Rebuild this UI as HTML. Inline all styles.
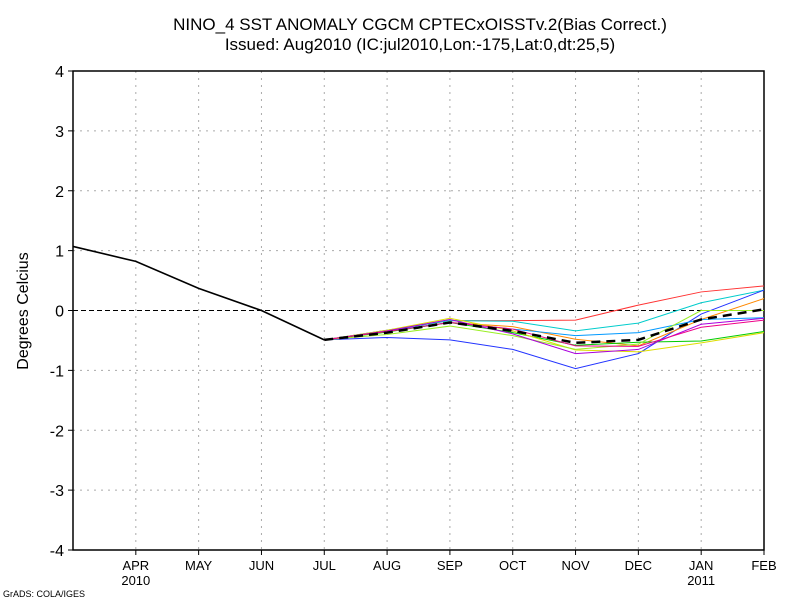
<!DOCTYPE html>
<html><head><meta charset="utf-8"><style>
body{margin:0;background:#fff}
svg text{font-family:"Liberation Sans",sans-serif}
</style></head><body>
<svg id="chart" width="800" height="600" xmlns="http://www.w3.org/2000/svg">
<rect width="800" height="600" fill="#fff"/>
<text x="420" y="30" font-size="17" text-anchor="middle">NINO_4 SST ANOMALY CGCM CPTECxOISSTv.2(Bias Correct.)</text>
<text x="420" y="50" font-size="17" text-anchor="middle">Issued:   Aug2010 (IC:jul2010,Lon:-175,Lat:0,dt:25,5)</text>
<text transform="translate(28,311) rotate(-90)" font-size="16" text-anchor="middle">Degrees Celcius</text>
<text x="3" y="597" font-size="9">GrADS: COLA/IGES</text>
<g id="grid"></g><g id="axes"></g><g id="series"></g>
</svg>
<script>
const months=["MAR","APR","MAY","JUN","JUL","AUG","SEP","OCT","NOV","DEC","JAN","FEB"];
const yTicks=[-4,-3,-2,-1,0,1,2,3,4];
const observed=[1.07,0.82,0.37,0.0,-0.49];
const memRed=[-0.49,-0.33,-0.17,-0.17,-0.16,0.09,0.31,0.41];
const memCyan=[-0.49,-0.33,-0.17,-0.18,-0.34,-0.21,0.13,0.34];
const memBlue=[-0.49,-0.45,-0.49,-0.65,-0.97,-0.72,-0.06,0.34];
const memOrange=[-0.49,-0.35,-0.2,-0.27,-0.48,-0.59,-0.15,0.2];
const memSky=[-0.49,-0.34,-0.2,-0.31,-0.42,-0.37,-0.15,-0.12];
const memGreen=[-0.49,-0.36,-0.2,-0.37,-0.58,-0.53,-0.51,-0.35];
const memYellow=[-0.49,-0.33,-0.13,-0.34,-0.66,-0.69,-0.54,-0.37];
const memLime=[-0.49,-0.4,-0.26,-0.42,-0.65,-0.56,0.0,0.0];
const memPurple=[-0.49,-0.34,-0.15,-0.39,-0.72,-0.65,-0.23,-0.13];
const memPink=[-0.49,-0.35,-0.2,-0.31,-0.59,-0.6,-0.28,-0.16];
const ensMean=[-0.49,-0.37,-0.2,-0.34,-0.54,-0.49,-0.15,0.02];
const X0=73,X1=764,Y0=71,Y1=550;
const xs=i=>X0+i*(X1-X0)/11;
const ys=v=>Y1-(v+4)*(Y1-Y0)/8;
const NS="http://www.w3.org/2000/svg";
function mk(p,t,a){const e=document.createElementNS(NS,t);for(const k in a)e.setAttribute(k,a[k]);p.appendChild(e);return e;}
const grid=document.getElementById('grid'),axes=document.getElementById('axes'),ser=document.getElementById('series');
for(let i=1;i<11;i++){const l=mk(grid,'line',{x1:xs(i),x2:xs(i),y1:Y0,y2:Y1,stroke:'#aaa','stroke-dasharray':'2,5'});

}
yTicks.forEach(v=>{if(v===0||v===4||v===-4)return;const l=mk(grid,'line',{x1:X0,x2:X1,y1:ys(v),y2:ys(v),stroke:'#aaa','stroke-dasharray':'2,5'});

});
const z=mk(grid,'line',{x1:X0,x2:X1,y1:ys(0),y2:ys(0),stroke:'#000','stroke-dasharray':'5,3'});


const fr=mk(axes,'rect',{x:X0,y:Y0,width:X1-X0,height:Y1-Y0,fill:'none',stroke:'#000','stroke-width':1.5});


yTicks.forEach(v=>{mk(axes,'line',{x1:X0-5,x2:X0,y1:ys(v),y2:ys(v),stroke:'#000'});
const t=mk(axes,'text',{x:X0-9,y:ys(v)+6,'font-size':16,'text-anchor':'end'});t.textContent=v;

});
months.forEach((m,i)=>{if(i===0)return;mk(axes,'line',{x1:xs(i),x2:xs(i),y1:Y1,y2:Y1+5,stroke:'#000'});
const t=mk(axes,'text',{x:xs(i),y:570,'font-size':13,'text-anchor':'middle'});t.textContent=m;

});
[[1,'2010'],[10,'2011']].forEach(([i,y])=>{const t=mk(axes,'text',{x:xs(i),y:585,'font-size':13,'text-anchor':'middle'});t.textContent=y;

});
function line(vals,off,col,w,dash,name){const pts=vals.map((v,i)=>xs(i+off)+','+ys(v)).join(' ');
const p=mk(ser,'polyline',{points:pts,fill:'none',stroke:col,'stroke-width':w});if(dash)p.setAttribute('stroke-dasharray',dash);

}
line(memRed,4,'#f33',1,null,'member-red');
line(memCyan,4,'#0cc',1,null,'member-cyan');
line(memBlue,4,'#23f',1,null,'member-blue');
line(memOrange,4,'#f80',1,null,'member-orange');
line(memSky,4,'#09f',1,null,'member-sky');
line(memGreen,4,'#0c0',1,null,'member-green');
line(memYellow,4,'#dd0',1,null,'member-yellow');
line(memLime,4,'#9e2',1,null,'member-lime');
line(memPurple,4,'#a0d',1,null,'member-purple');
line(memPink,4,'#e08',1,null,'member-pink');
line(ensMean,4,'#000',2.5,'9,6','ensemble-mean');
line(observed,0,'#000',1.6,null,'observed-line');
</script>
</body></html>
